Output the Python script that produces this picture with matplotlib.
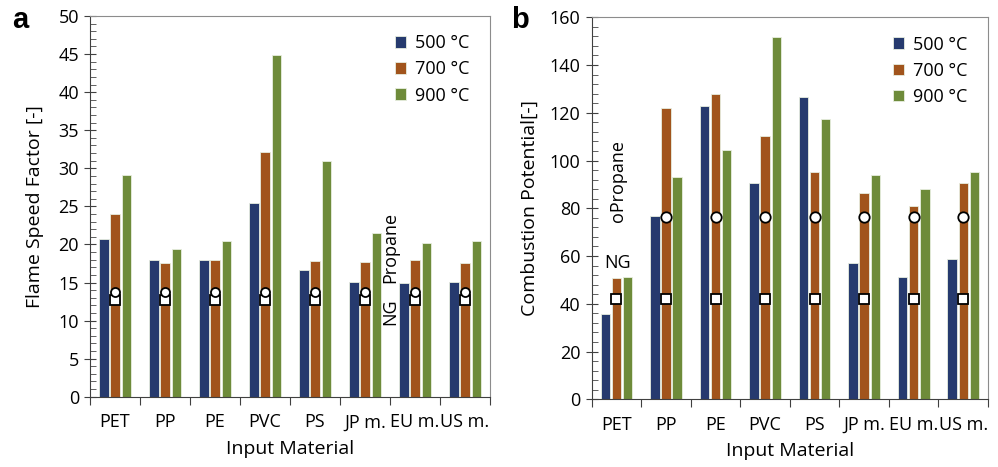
import numpy as np
import matplotlib
matplotlib.use('Agg')
import matplotlib.pyplot as plt
from matplotlib.ticker import MultipleLocator, FixedLocator, NullFormatter

plt.rcParams['font.family'] = ['Open Sans', 'DejaVu Sans']

materials = ['PET', 'PP', 'PE', 'PVC', 'PS', 'JP m.', 'EU m.', 'US m.']
temps = ['500 °C', '700 °C', '900 °C']
colors = ['#263a6e', '#a1541c', '#6e8b3a']

# flame speed factor [-]
fsf_500 = [20.7, 17.9, 17.9, 25.5, 16.6, 15.1, 14.9, 15.1]
fsf_700 = [24.0, 17.5, 18.0, 32.1, 17.8, 17.7, 18.0, 17.6]
fsf_900 = [29.1, 19.4, 20.4, 44.9, 31.0, 21.5, 20.2, 20.5]
fsf_propane = 13.8
fsf_ng = 12.7

# combustion potential [-]
cp_500 = [35.7, 76.8, 122.7, 90.6, 126.5, 57.0, 51.4, 58.6]
cp_700 = [50.7, 121.9, 127.7, 110.1, 95.3, 86.3, 80.8, 90.5]
cp_900 = [51.4, 93.1, 104.4, 151.9, 117.3, 93.9, 88.1, 95.3]
cp_propane = 76.5
cp_ng = 42.0

x = np.arange(len(materials))
w = 0.19
offs = [-0.225, 0.0, 0.225]

fig = plt.figure(figsize=(9.98, 4.67), dpi=100)
ax1 = fig.add_axes([0.0902, 0.1505, 0.4008, 0.8152])
ax2 = fig.add_axes([0.5929, 0.145, 0.3971, 0.818])


def style_axis(ax, ymax, major, minor):
    ax.set_xlim(-0.5, len(materials) - 0.5)
    ax.set_ylim(0, ymax)
    ax.yaxis.set_major_locator(MultipleLocator(major))
    ax.yaxis.set_minor_locator(MultipleLocator(minor))
    ax.tick_params(axis='y', which='major', direction='inout', length=8, width=0.8,
                   labelsize=13, color='#404040', pad=4)
    ax.tick_params(axis='y', which='minor', direction='in', length=4, width=0.7, color='#606060')
    # ticks between categories, labels at centres
    ax.xaxis.set_major_locator(FixedLocator(np.arange(-0.5, len(materials), 1.0)))
    ax.xaxis.set_major_formatter(NullFormatter())
    ax.xaxis.set_minor_locator(FixedLocator(x))
    ax.set_xticklabels(materials, minor=True)
    ax.tick_params(axis='x', which='major', direction='out', length=6, width=0.8, color='#404040')
    ax.tick_params(axis='x', which='minor', length=0, labelsize=13, pad=12)
    for s in ['top', 'right']:
        ax.spines[s].set_color('#8c8c8c')
        ax.spines[s].set_linewidth(0.8)
    for s in ['left', 'bottom']:
        ax.spines[s].set_color('#404040')
        ax.spines[s].set_linewidth(0.8)
    ax.set_xlabel('Input Material', fontsize=14, labelpad=6)


for ax, series in [(ax1, [fsf_500, fsf_700, fsf_900]), (ax2, [cp_500, cp_700, cp_900])]:
    for i in range(3):
        ax.bar(x + offs[i], series[i], width=w, color=colors[i], edgecolor='#e8eee0',
               linewidth=0.6, label=temps[i], zorder=2)

# panel a markers
ax1.plot(x, [fsf_ng] * len(x), linestyle='none', marker='s', markersize=6.5,
         markerfacecolor='white', markeredgecolor='black', markeredgewidth=1.3, zorder=3)
ax1.plot(x, [fsf_propane] * len(x), linestyle='none', marker='o', markersize=6.5,
         markerfacecolor='white', markeredgecolor='black', markeredgewidth=1.3, zorder=4)
ax1.text(5.5, 19.6, 'Propane', rotation=90, ha='center', va='center', fontsize=13)
ax1.text(5.5, 11.2, 'NG', rotation=90, ha='center', va='center', fontsize=13)

# panel b markers
ax2.plot(x, [cp_ng] * len(x), linestyle='none', marker='s', markersize=6.5,
         markerfacecolor='white', markeredgecolor='black', markeredgewidth=1.3, zorder=3)
ax2.plot(x[1:], [cp_propane] * (len(x) - 1), linestyle='none', marker='o', markersize=7.5,
         markerfacecolor='white', markeredgecolor='black', markeredgewidth=1.3, zorder=4)
ax2.text(0.04, 91.4, 'oPropane', rotation=90, ha='center', va='center', fontsize=13)
ax2.text(0.03, 57, 'NG', ha='center', va='center', fontsize=13)

style_axis(ax1, 50, 5, 1)
style_axis(ax2, 160, 20, 4)
ax1.set_ylabel('Flame Speed Factor [-]', fontsize=14, labelpad=10)
ax2.set_ylabel('Combustion Potential[-]', fontsize=14, labelpad=8)

for ax in (ax1, ax2):
    ax.legend(loc='upper right', frameon=False, fontsize=13, handlelength=0.6,
              handleheight=0.6, handletextpad=0.5, labelspacing=0.45,
              borderaxespad=0.4, bbox_to_anchor=(0.985, 0.99))

fig.text(0.02, 0.957, 'a', fontsize=21, fontweight='bold', family='Liberation Sans',
         ha='center', va='center')
fig.text(0.521, 0.957, 'b', fontsize=21, fontweight='bold', family='Liberation Sans',
         ha='center', va='center')

fig.savefig('out.png', dpi=100)
